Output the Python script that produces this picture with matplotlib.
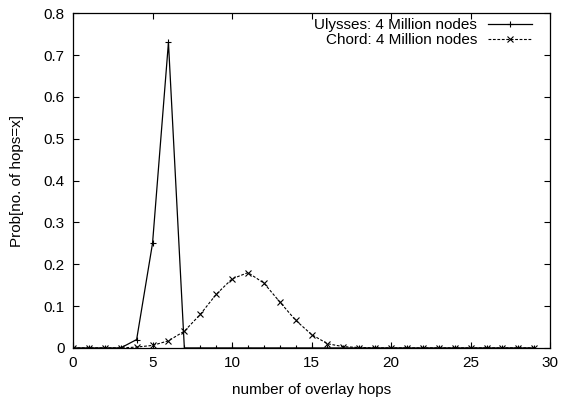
import matplotlib
matplotlib.use("Agg")
import matplotlib.pyplot as plt

plt.rcParams['font.family'] = ['Liberation Sans', 'DejaVu Sans']

# hops 0..29
hops = list(range(30))
ulysses = [0, 0, 0, 0, 0.02, 0.25, 0.73, 0] + [0] * 22
chord = [0, 0, 0, 0, 0.002, 0.006, 0.017, 0.04, 0.08, 0.128, 0.165, 0.18,
         0.155, 0.11, 0.066, 0.032, 0.01, 0.003, 0.001] + [0] * 11

x_ticks = [0, 5, 10, 15, 20, 25, 30]
y_ticks = [0, 0.1, 0.2, 0.3, 0.4, 0.5, 0.6, 0.7, 0.8]
y_tick_labels = ['0', '0.1', '0.2', '0.3', '0.4', '0.5', '0.6', '0.7', '0.8']

fs = 11

fig = plt.figure(figsize=(5.66, 3.99), dpi=100)
ax = fig.add_axes([0.129, 0.128, 0.843, 0.839])

ax.plot(hops, ulysses, color='black', linewidth=0.9, marker='+', markersize=5,
        markeredgewidth=0.8, label='Ulysses: 4 Million nodes')
ax.plot(hops, chord, color='black', linewidth=0.8, linestyle=(0, (2.5, 1.5)),
        marker='x', markersize=4, markeredgewidth=0.8, label='Chord: 4 Million nodes')

ax.set_xlim(0, 30)
ax.set_ylim(0, 0.8)
ax.set_xticks(x_ticks)
ax.set_yticks(y_ticks)
ax.set_yticklabels(y_tick_labels)
ax.tick_params(direction='in', top=True, right=True, length=4, width=0.8,
               labelsize=fs, pad=6)
for s in ax.spines.values():
    s.set_linewidth(0.9)

ax.set_xlabel('number of overlay hops', fontsize=fs, labelpad=9)
ax.set_ylabel('Prob[no. of hops=x]', fontsize=fs, labelpad=14)

ax.legend(loc='upper right', bbox_to_anchor=(0.981, 1.012), frameon=False,
          markerfirst=False, fontsize=fs, handlelength=2.9, borderaxespad=0.3,
          borderpad=0.3, labelspacing=0.05, handletextpad=0.7)

fig.savefig('out.png', dpi=100)
